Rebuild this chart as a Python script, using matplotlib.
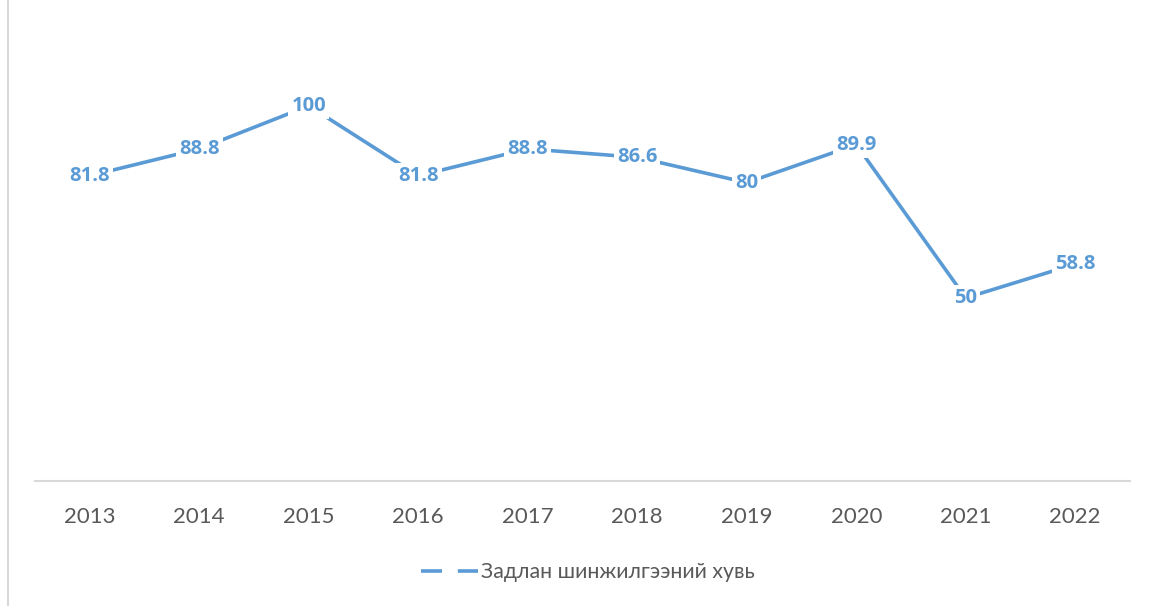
import matplotlib.pyplot as plt
from matplotlib.lines import Line2D

# data
years = ['2013', '2014', '2015', '2016', '2017', '2018', '2019', '2020', '2021', '2022']
share = [81.8, 88.8, 100, 81.8, 88.8, 86.6, 80, 89.9, 50, 58.8]
label_txt = ['81.8', '88.8', '100', '81.8', '88.8', '86.6', '80', '89.9', '50', '58.8']
series_name = 'Задлан шинжилгээний хувь'

blue = '#5B9BD5'
grey_txt = '#595959'
plt.rcParams['font.family'] = ['Lato', 'DejaVu Sans']

W, H = 1155, 606
fig = plt.figure(figsize=(W / 100, H / 100), dpi=100)
# axes placed in pixel terms (value 0 sits a little below the category line)
left, right, bottom, top = 35, 1130, 490, 29
ax = fig.add_axes([left / W, 1 - bottom / H, (right - left) / W, (bottom - top) / H])

# move the spine first, it resets the tick settings
for s in ['top', 'right', 'left']:
    ax.spines[s].set_visible(False)
ax.spines['bottom'].set_position(('outward', -6.75))
ax.spines['bottom'].set_color('#D9D9D9')
ax.spines['bottom'].set_linewidth(1.5)

x = list(range(len(years)))
ax.plot(x, share, color=blue, lw=2.6, solid_capstyle='butt', zorder=2)
for xi, v, t in zip(x, share, label_txt):
    ax.text(xi, v, t, ha='center', va='center', color=blue, fontsize=14.5,
            fontweight='bold', family=['Open Sans', 'DejaVu Sans'], zorder=3,
            bbox=dict(boxstyle='square,pad=0.15', fc='white', ec='none'))

ax.set_xlim(-0.5, len(years) - 0.5)
ax.set_ylim(0, 120)
ax.set_xticks(x)
ax.set_xticklabels(years, fontsize=16, color=grey_txt)
ax.tick_params(axis='x', length=0, pad=19)
ax.set_yticks([])

# chart area border on the left
fig.add_artist(Line2D([7.5 / W, 7.5 / W], [0, 1], color='#D9D9D9', lw=1.5))

proxy = Line2D([], [], color=blue, lw=2.6, dashes=(5.8, 4.4), dash_capstyle='butt')
fig.legend([proxy], [series_name], loc='center', bbox_to_anchor=(588 / W, 1 - 572 / H),
           frameon=False, fontsize=15.3, handlelength=2.7, handletextpad=0.15,
           labelcolor=grey_txt)

fig.savefig('out.png', dpi=100, facecolor='white')
